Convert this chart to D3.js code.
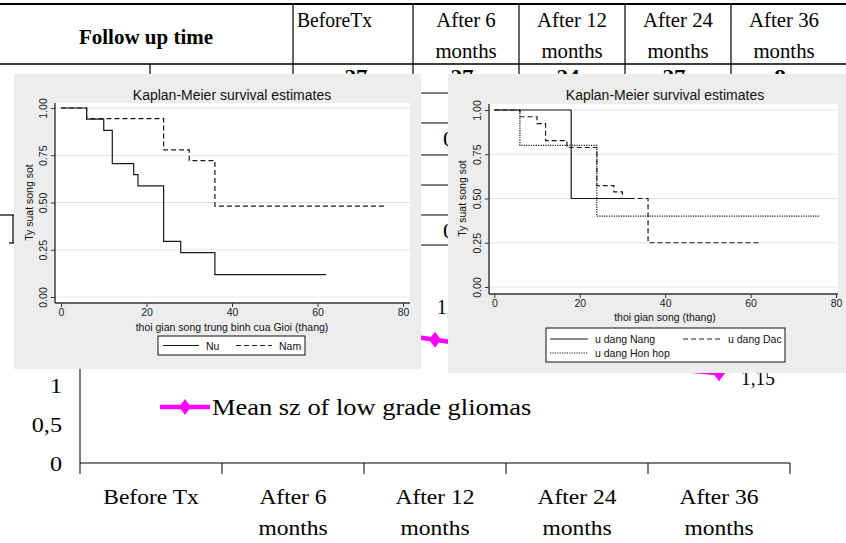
<!DOCTYPE html>
<html>
<head>
<meta charset="utf-8">
<script src="https://cdn.jsdelivr.net/npm/d3@7"></script>
<style>
  body { margin: 0; background: #fff; }
  svg { display: block; }
</style>
</head>
<body>
<div id="chart"></div>
<script>
// ---- table (background) ----
const headerTop = ["BeforeTx", "After 6", "After 12", "After 24", "After 36"];
const headerBottom = ["", "months", "months", "months", "months"];
const rowCounts = ["27", "27", "24", "27", "8"];
const hiddenCells = ["0,62", "0,41"];   // only the first "0" shows between the two panels

// ---- line chart (behind the panels) ----
const categories = ["Before Tx", "After 6\nmonths", "After 12\nmonths", "After 24\nmonths", "After 36\nmonths"];
const meanSize = [2.02, 1.84, 1.58, 1.32, 1.15];
const seriesName = "Mean sz of low grade gliomas";
const sizeTicks = [0, 0.5, 1, 1.5, 2, 2.5];

// ---- Kaplan-Meier panels ----
const kmTicksX = [0, 20, 40, 60, 80];
const kmTicksY = [0, 0.25, 0.5, 0.75, 1];
// left: by sex
const nuTime = [0, 6, 10, 12, 17, 18, 24, 28, 36, 62];
const nuSurv = [1, 0.941, 0.882, 0.706, 0.647, 0.588, 0.294, 0.235, 0.118, 0.118];
const namTime = [0, 6, 24, 30, 36, 76];
const namSurv = [1, 0.944, 0.778, 0.722, 0.481, 0.481];
// right: by tumour type
const nangTime = [0, 18, 32];
const nangSurv = [1, 0.5, 0.5];
const dacTime = [0, 6, 10, 12, 17, 24, 28, 30, 36, 62];
const dacSurv = [1, 0.962, 0.923, 0.827, 0.788, 0.573, 0.537, 0.5, 0.25, 0.25];
const honTime = [0, 6, 24, 76];
const honSurv = [1, 0.8, 0.4, 0.4];

const W = 846, H = 543;
const serif = "'Liberation Serif', 'Times New Roman', serif";
const sans = "'Liberation Sans', Arial, sans-serif";

const svg = d3.select("#chart").append("svg")
    .attr("width", W).attr("height", H);
svg.append("rect").attr("width", W).attr("height", H).attr("fill", "#fff");

// serif text, a bit stretched sideways like the Word picture
function stext(g, x, y, str, opt = {}) {
    return g.append("text")
        .attr("transform", `translate(${x},${y}) scale(${opt.sx || 1.1},1)`)
        .attr("text-anchor", opt.anchor || "middle")
        .style("font-family", serif)
        .style("font-size", (opt.size || 21) + "px")
        .style("font-weight", opt.bold ? "bold" : "normal")
        .attr("fill", "#000")
        .text(str);
}

//1. table
const table = svg.append("g");
const colX = d3.scaleBand().domain(headerTop).range([307, 837]);
const hline = (y, x1, x2, w = 1.2) => table.append("line")
    .attr("x1", x1).attr("x2", x2).attr("y1", y).attr("y2", y)
    .attr("stroke", "#000").attr("stroke-width", w);
const vline = (x, y1, y2, w = 1.2) => table.append("line")
    .attr("x1", x).attr("x2", x).attr("y1", y1).attr("y2", y2)
    .attr("stroke", "#000").attr("stroke-width", w);

hline(4, 0, W, 2.2);
hline(64, 0, W, 1.5);
vline(150, 64, 95);
vline(293, 4, 95);
stext(table, 146, 44, "Follow up time", {bold: true, size: 20, sx: 1.05});

headerTop.forEach((h, i) => {
    const cx = colX(h) + colX.bandwidth() / 2;
    if (i > 0) vline(colX(h), 4, 95);
    if (i === 0) stext(table, 297, 27, h, {size: 20, sx: 0.98, anchor: "start"});
    else stext(table, cx, 27, h, {size: 20, sx: 1.04});
    stext(table, cx, 58, headerBottom[i], {size: 20, sx: 1.04});
    stext(table, cx - 4, 84, rowCounts[i], {size: 21, bold: true});
});

// rows of the table that peek out between the panels
const c2 = colX(headerTop[1]);
[93, 123, 155, 185, 215, 245].forEach(y => hline(y, c2, W));
hiddenCells.forEach((v, i) => {
    stext(table, c2 + 30, [146, 238][i], v, {size: 21, anchor: "start"});
});
// fragments on the far left
hline(215, 0, 14);
vline(13, 215, 243);
hline(243, 9, 16);

//2. line chart
const chart = svg.append("g");
const xScale = d3.scaleBand().domain(categories).range([80, 790]);
const yScale = d3.scaleLinear().domain([0, 2.5]).range([463, 268]);
const fmt = v => String(v).replace(".", ",");

chart.append("line")
    .attr("x1", 80).attr("x2", 80)
    .attr("y1", yScale(0)).attr("y2", yScale(2.5))
    .attr("stroke", "#000");
chart.append("line")
    .attr("x1", xScale.range()[0]).attr("x2", xScale.range()[1])
    .attr("y1", yScale(0)).attr("y2", yScale(0))
    .attr("stroke", "#000");

sizeTicks.forEach(t => {
    stext(chart, 62, yScale(t) + 8, fmt(t), {anchor: "end", size: 22});
});

const edges = categories.map(c => xScale(c)).concat(xScale.range()[1]);
edges.forEach(x => {
    chart.append("line")
        .attr("x1", x).attr("x2", x)
        .attr("y1", yScale(0)).attr("y2", yScale(0) + 11)
        .attr("stroke", "#000");
});
categories.forEach(c => {
    const cx = xScale(c) + xScale.bandwidth() / 2;
    c.split("\n").forEach((ln, k) => stext(chart, cx, 504 + k * 31, ln, {size: 21, sx: 1.12}));
});

const magenta = "#ff00ff";
const diamond = "M0,-8L6,0L0,8L-6,0Z";
const px = (d, i) => xScale(categories[i]) + xScale.bandwidth() / 2;

chart.append("path")
    .datum(meanSize)
    .attr("d", d3.line().x(px).y(d => yScale(d)))
    .attr("fill", "none")
    .attr("stroke", magenta)
    .attr("stroke-width", 4.5);

chart.selectAll(".pt")
    .data(meanSize)
    .enter().append("path")
        .attr("d", diamond)
        .attr("transform", (d, i) => `translate(${px(d, i)},${yScale(d)})`)
        .attr("fill", magenta);

meanSize.forEach((d, i) => {
    const last = i === meanSize.length - 1;
    stext(chart, px(d, i) + (last ? 22 : 2), yScale(d) + (last ? 12 : -26), fmt(d),
        {anchor: "start", size: 22, sx: 0.88});
});

// legend
chart.append("line")
    .attr("x1", 160).attr("x2", 210).attr("y1", 407).attr("y2", 407)
    .attr("stroke", magenta).attr("stroke-width", 4.5);
chart.append("path").attr("d", diamond)
    .attr("transform", "translate(185,407)").attr("fill", magenta);
stext(chart, 212, 415, seriesName, {anchor: "start", size: 23, sx: 1.15});

//3. Kaplan-Meier panels
function kmPanel(o) {
    const g = svg.append("g").style("font-family", sans);

    g.append("rect")
        .attr("x", o.box[0]).attr("y", o.box[1])
        .attr("width", o.box[2] - o.box[0]).attr("height", o.box[3] - o.box[1])
        .attr("fill", "#ededed");
    g.append("rect")
        .attr("x", o.plot[0]).attr("y", o.plot[1])
        .attr("width", o.plot[2] - o.plot[0]).attr("height", o.plot[3] - o.plot[1])
        .attr("fill", "#fff");

    const xs = d3.scaleLinear().domain([0, 80]).range(o.xr);
    const ys = d3.scaleLinear().domain([0, 1]).range(o.yr);

    // gridlines
    g.selectAll(".grid")
        .data(kmTicksY)
        .enter().append("line")
            .attr("x1", o.plot[0]).attr("x2", o.plot[2])
            .attr("y1", d => ys(d)).attr("y2", d => ys(d))
            .attr("stroke", "#e3e3e3").attr("stroke-width", 1.2);

    // x axis
    const gx = g.append("g")
        .attr("transform", `translate(0,${o.plot[3]})`)
        .call(d3.axisBottom(xs).tickValues(kmTicksX).tickSize(4).tickPadding(2));
    gx.select(".domain").remove();
    gx.append("line").attr("x1", o.plot[0]).attr("x2", o.plot[2])
        .attr("stroke", "#333").attr("stroke-width", 1.4);
    gx.selectAll(".tick line").attr("stroke", "#333");
    gx.selectAll(".tick text")
        .attr("fill", "#222").style("font-family", sans).style("font-size", "10.5px");

    // y axis
    const gy = g.append("g")
        .attr("transform", `translate(${o.plot[0]},0)`)
        .call(d3.axisLeft(ys).tickValues(kmTicksY).tickFormat(d3.format(".2f")).tickSize(4));
    gy.select(".domain").remove();
    gy.append("line").attr("y1", o.plot[1]).attr("y2", o.plot[3])
        .attr("stroke", "#333").attr("stroke-width", 1.4);
    gy.selectAll(".tick line").attr("stroke", "#333");
    gy.selectAll(".tick text")
        .attr("transform", "rotate(-90)")
        .attr("x", 0).attr("y", -8).attr("dy", 0)
        .attr("text-anchor", "middle")
        .attr("fill", "#222").style("font-family", sans).style("font-size", "10.5px");

    // titles
    g.append("text")
        .attr("x", o.titleX).attr("y", 99.5)
        .attr("text-anchor", "middle")
        .style("font-size", "14px").attr("fill", "#111")
        .text("Kaplan-Meier survival estimates");
    g.append("text")
        .attr("x", o.titleX).attr("y", o.xTitleY)
        .attr("text-anchor", "middle")
        .style("font-size", "10.5px").attr("fill", "#111")
        .text(o.xTitle);
    g.append("text")
        .attr("transform", `translate(${o.yTitleX},${ys(0.5)}) rotate(-90)`)
        .attr("text-anchor", "middle")
        .style("font-size", "10.5px").attr("fill", "#111")
        .text("Ty suat song sot");

    // curves
    const step = d3.line()
        .x(d => xs(d[0])).y(d => ys(d[1]))
        .curve(d3.curveStepAfter);
    o.series.forEach(s => {
        g.append("path")
            .datum(d3.zip(s.t, s.s))
            .attr("d", step)
            .attr("fill", "none")
            .attr("stroke", "#1a1a1a")
            .attr("stroke-width", 1.2)
            .attr("stroke-dasharray", s.dash);
    });

    // legend
    const lg = o.legend;
    g.append("rect")
        .attr("x", lg.box[0]).attr("y", lg.box[1])
        .attr("width", lg.box[2]).attr("height", lg.box[3])
        .attr("fill", "#fff").attr("stroke", "#111").attr("stroke-width", 1);
    lg.items.forEach((it, i) => {
        const s = o.series[i];
        g.append("line")
            .attr("x1", it[0]).attr("x2", it[0] + lg.len)
            .attr("y1", it[1]).attr("y2", it[1])
            .attr("stroke", "#1a1a1a").attr("stroke-width", 1.2)
            .attr("stroke-dasharray", s.dash);
        g.append("text")
            .attr("x", it[0] + lg.len + 7).attr("y", it[1] + 4)
            .style("font-size", "10.5px").attr("fill", "#111")
            .text(s.label);
    });
}

kmPanel({
    box: [14, 74, 421, 369],
    plot: [55, 103, 410, 303],
    xr: [61, 403], yr: [297, 108],
    titleX: 232, xTitleY: 331, yTitleX: 33,
    xTitle: "thoi gian song trung binh cua Gioi (thang)",
    series: [
        {t: nuTime, s: nuSurv, dash: null, label: "Nu"},
        {t: namTime, s: namSurv, dash: "5,3", label: "Nam"}
    ],
    legend: {box: [158, 336, 147, 19], len: 36, items: [[163, 345.5], [236, 345.5]]}
});

kmPanel({
    box: [448, 74, 846, 373],
    plot: [489, 104, 838, 294],
    xr: [494.3, 836], yr: [287, 110],
    titleX: 665, xTitleY: 321, yTitleX: 466,
    xTitle: "thoi gian song (thang)",
    series: [
        {t: nangTime, s: nangSurv, dash: null, label: "u dang Nang"},
        {t: dacTime, s: dacSurv, dash: "5,3", label: "u dang Dac"},
        {t: honTime, s: honSurv, dash: "1.2,1.2", label: "u dang Hon hop"}
    ],
    legend: {box: [546, 328, 239, 34], len: 38, items: [[550, 339], [683, 339], [550, 353]]}
});
</script>
</body>
</html>
